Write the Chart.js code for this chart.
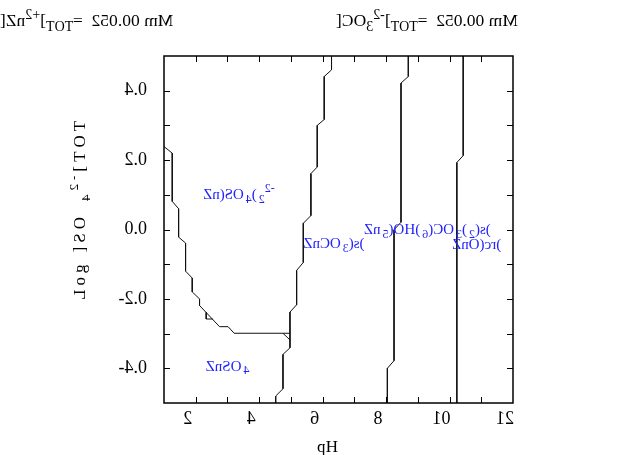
<!DOCTYPE html>
<html>
<head>
<meta charset="utf-8">
<script src="https://cdn.jsdelivr.net/npm/chart.js@4.4.0/dist/chart.umd.min.js"></script>
<style>
  html, body { margin: 0; padding: 0; background: #fff; }
  canvas { display: block; }
</style>
</head>
<body>
<canvas id="chart" width="617" height="455"></canvas>
<script>
// axis ranges and labelled ticks
const pHRange = [1, 12];
const logSRange = [-5, 5];
const xLabelValues = [2, 4, 6, 8, 10, 12];
const yLabelValues = [-4, -2, 0, 2, 4];

// predominance boundaries (pH, log[SO4 2-]tot)
const b1pH   = [1.0, 1.26, 1.26, 1.46, 1.46, 1.68, 1.68, 1.89, 1.89, 2.12, 2.12, 2.75, 3.02, 3.21, 4.75, 4.97];
const b1logS = [2.39, 2.20, 0.81, 0.60, -0.22, -0.39, -1.20, -1.40, -1.80, -2.00, -2.19, -2.80, -2.80, -2.99, -2.99, -2.99];
const b1aPH   = [2.33, 2.33, 2.54];
const b1aLogS = [-2.39, -2.58, -2.58];
const b1bPH   = [4.75, 4.99];
const b1bLogS = [-2.99, -3.20];
const b2pH   = [6.28, 6.28, 6.05, 6.05, 5.83, 5.83, 5.63, 5.63, 5.39, 5.39, 5.18, 5.18, 4.97, 4.97, 4.75, 4.75, 4.52, 4.52];
const b2logS = [5.0, 4.60, 4.41, 3.17, 3.00, 1.80, 1.61, 0.40, 0.18, -0.95, -1.18, -2.17, -2.38, -3.41, -3.60, -4.59, -4.80, -5.0];
const b3pH   = [8.70, 8.70, 8.47, 8.47, 8.25, 8.25, 8.04, 8.04];
const b3logS = [5.0, 4.41, 4.22, 0.21, -0.01, -3.78, -4.00, -5.0];
const b4pH   = [10.43, 10.43, 10.23, 10.23];
const b4logS = [5.0, 2.13, 1.93, -5.0];

// species labels: [text, n|sub|sup]
const speciesNames = [
  [['Zn(SO', 'n'], ['4', 'sub'], [')', 'n'], ['2', 'sub'], ['2-', 'sup']],
  [['ZnSO', 'n'], ['4', 'sub']],
  [['ZnCO', 'n'], ['3', 'sub'], ['(s)', 'n']],
  [['Zn', 'n'], ['5', 'sub'], ['(OH)', 'n'], ['6', 'sub'], ['(CO', 'n'], ['3', 'sub'], [')', 'n'], ['2', 'sub'], ['(s)', 'n']],
  [['ZnO(cr)', 'n']]
];
const speciesPH   = [2.23, 2.31, 5.39, 7.30, 10.08];
const speciesLogS = [0.98, -3.95, -0.43, -0.03, -0.45];

const totZn  = [['[Zn', 'n'], ['2+', 'sup'], [']', 'n'], ['TOT', 'sub'], ['=  250.00 mM', 'n']];
const totCO3 = [['[CO', 'n'], ['3', 'sub'], ['2-', 'sup'], [']', 'n'], ['TOT', 'sub'], ['=  250.00 mM', 'n']];
const yTitle = [['Log [SO', 'n'], ['4', 'sub'], ['2-', 'sup'], [']', 'n'], ['TOT', 'n']];

const SERIF = '"Liberation Serif", "Times New Roman", serif';

// every glyph is drawn mirrored in its own box (as in the reference)
let glyphGap = 0;
function mirrorGlyphs(ctx) {
    const fill = ctx.fillText.bind(ctx);
    ctx.fillText = function (text, x, y) {
        const chars = Array.from(String(text));
        const widths = chars.map(c => ctx.measureText(c).width);
        const total = widths.reduce((a, b) => a + b, 0) + glyphGap * chars.length;
        const align = ctx.textAlign;
        let cx = x;
        if (align === 'center') cx = x - total / 2;
        else if (align === 'right' || align === 'end') cx = x - total;
        ctx.save();
        ctx.textAlign = 'center';
        chars.forEach((c, i) => {
            ctx.save();
            ctx.translate(cx + widths[i] / 2, y);
            ctx.scale(-1, 1);
            fill(c, 0, 0);
            ctx.restore();
            cx += widths[i] + glyphGap;
        });
        ctx.restore();
    };
}

function drawRich(ctx, parts, x, y, size, subGap) {
    let cx = x;
    ctx.textAlign = 'left';
    for (const [t, kind] of parts) {
        const s = kind === 'n' ? size : Math.round(size * 0.78);
        let dy = 0;
        if (kind === 'sub') { dy = size * 0.3; cx += subGap; }
        if (kind === 'sup') dy = -size * 0.42;
        ctx.font = s + 'px ' + SERIF;
        ctx.fillText(t, cx, y + dy);
        cx += ctx.measureText(t).width + glyphGap * Array.from(t).length;
    }
}

const toPoints = (xs, ys) => xs.map((v, i) => ({ x: v, y: ys[i] }));

function boundary(xs, ys) {
    return {
        data: toPoints(xs, ys),
        showLine: true,
        borderColor: '#111',
        borderWidth: 1,
        pointRadius: 0,
        tension: 0,
        fill: false
    };
}

const diagramDecor = {
    id: 'diagramDecor',
    afterDraw(chart) {
        const { ctx, chartArea: a, scales: { x, y } } = chart;
        ctx.save();
        // inward ticks on all four sides
        ctx.strokeStyle = '#000';
        ctx.lineWidth = 1;
        ctx.beginPath();
        x.ticks.forEach(t => {
            if (t.value <= x.min || t.value >= x.max) return;
            const px = Math.round(x.getPixelForValue(t.value)) + 0.5;
            ctx.moveTo(px, a.bottom); ctx.lineTo(px, a.bottom - 6);
            ctx.moveTo(px, a.top); ctx.lineTo(px, a.top + 6);
        });
        y.ticks.forEach(t => {
            if (t.value <= y.min || t.value >= y.max) return;
            const py = Math.round(y.getPixelForValue(t.value)) + 0.5;
            ctx.moveTo(a.left, py); ctx.lineTo(a.left + 6, py);
            ctx.moveTo(a.right, py); ctx.lineTo(a.right - 6, py);
        });
        ctx.stroke();
        ctx.lineWidth = 1.5;
        ctx.strokeRect(a.left, a.top, a.right - a.left, a.bottom - a.top);

        // species names
        ctx.fillStyle = '#2222ff';
        ctx.textBaseline = 'middle';
        speciesNames.forEach((parts, i) => {
            drawRich(ctx, parts, x.getPixelForValue(speciesPH[i]), y.getPixelForValue(speciesLogS[i]), 15, 2);
        });

        // totals on top
        ctx.fillStyle = '#000';
        ctx.textBaseline = 'alphabetic';
        drawRich(ctx, totZn, 0, 26, 17.5, 0);
        drawRich(ctx, totCO3, 336, 26, 17.5, 0);

        // axis titles
        ctx.textAlign = 'center';
        ctx.font = '17px ' + SERIF;
        ctx.fillText('pH', (a.left + a.right) / 2 - 11, 452);

        ctx.save();
        ctx.translate(a.left - 79, 300);
        ctx.rotate(-Math.PI / 2);
        glyphGap = 4;
        drawRich(ctx, yTitle, 0, 0, 17, 12);
        glyphGap = 0;
        ctx.restore();
        ctx.restore();
    }
};

const canvas = document.getElementById('chart');
const ctx = canvas.getContext('2d');
mirrorGlyphs(ctx);

new Chart(ctx, {
    type: 'scatter',
    data: {
        datasets: [
            boundary(b1pH, b1logS),
            boundary(b1aPH, b1aLogS),
            boundary(b1bPH, b1bLogS),
            boundary(b2pH, b2logS),
            boundary(b3pH, b3logS),
            boundary(b4pH, b4logS)
        ]
    },
    options: {
        responsive: false,
        animation: false,
        layout: { padding: { top: 56, right: 104, left: 0, bottom: 0 } },
        plugins: {
            legend: { display: false },
            tooltip: { enabled: false }
        },
        scales: {
            x: {
                type: 'linear',
                min: pHRange[0],
                max: pHRange[1],
                afterFit: s => { s.height = 52; },
                grid: { display: false, drawTicks: false },
                border: { display: false },
                ticks: {
                    stepSize: 1,
                    autoSkip: false,
                    maxRotation: 0,
                    padding: 5,
                    labelOffset: -8,
                    color: '#000',
                    font: { family: SERIF, size: 18 },
                    callback: v => xLabelValues.includes(v) ? String(v) : ''
                }
            },
            y: {
                type: 'linear',
                min: logSRange[0],
                max: logSRange[1],
                afterFit: s => { s.width = 164; },
                grid: { display: false, drawTicks: false },
                border: { display: false },
                ticks: {
                    stepSize: 1,
                    autoSkip: false,
                    padding: 17,
                    color: '#000',
                    font: { family: SERIF, size: 18 },
                    callback: v => yLabelValues.includes(v) ? v.toFixed(1) : ''
                }
            }
        }
    },
    plugins: [diagramDecor]
});
</script>
</body>
</html>
